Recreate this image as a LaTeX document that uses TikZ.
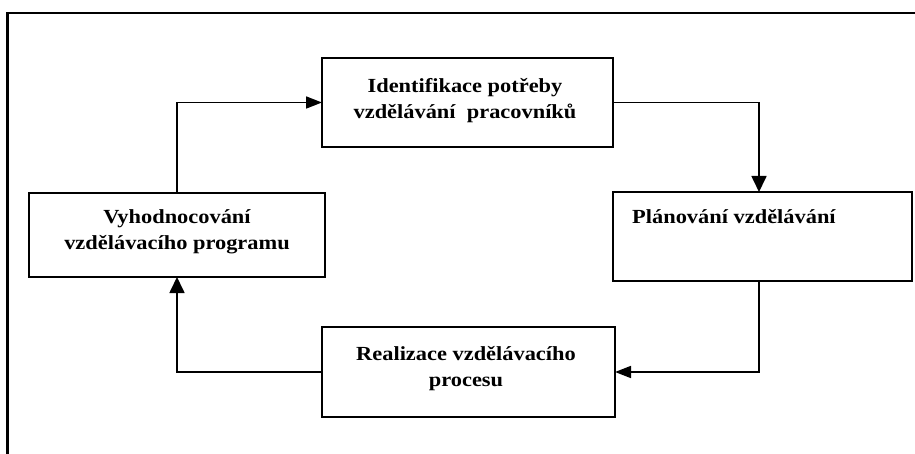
\documentclass[tikz,border=0pt]{standalone}
\usepackage{fontspec}
\setmainfont{Liberation Serif}[FakeStretch=1.12]
\usetikzlibrary{arrows.meta}
\begin{document}
\begin{tikzpicture}[x=1pt,y=-1pt,
  box/.style={draw, line width=2pt, inner sep=0pt, outer sep=0pt},
  lbl/.style={font=\fontsize{20}{26}\selectfont\bfseries, align=center, inner sep=0pt},
  hconn/.style={line width=1.7pt, -{Triangle[length=16pt,width=12pt]}},
  vconn/.style={line width=1.7pt, -{Triangle[length=16pt,width=15pt]}}]
\useasboundingbox (0,0) rectangle (915,454);
\draw[line width=2.2pt] (7.5,456) -- (7.5,13) -- (917,13);
% boxes
\node[box, minimum width=291pt, minimum height=89pt] (A) at (467.5,102.5) {};
\node[box, minimum width=299pt, minimum height=89pt] (B) at (762.5,236.5) {};
\node[box, minimum width=296pt, minimum height=84pt] (C) at (177,235) {};
\node[box, minimum width=293pt, minimum height=90pt] (D) at (468.5,372) {};
% texts
\node[lbl, anchor=base] (At) at (465,119) {Identifikace potřeby\\vzdělávání\ \ pracovníků};
\node[lbl, anchor=base west] (Bt) at (632,224) {Plánování vzdělávání};
\node[lbl, anchor=base] (Ct) at (177,250) {Vyhodnocování\\vzdělávacího programu};
\node[lbl, anchor=base] (Dt) at (466,386) {Realizace vzdělávacího\\procesu};
% connectors
\draw[hconn] (C.north) |- (A.west);
\draw[vconn] (A.east) -| ([xshift=-3.5pt]B.north);
\draw[hconn] ([xshift=-3.5pt]B.south) |- (D.east);
\draw[vconn] (D.west) -| (C.south);
\end{tikzpicture}
\end{document}
